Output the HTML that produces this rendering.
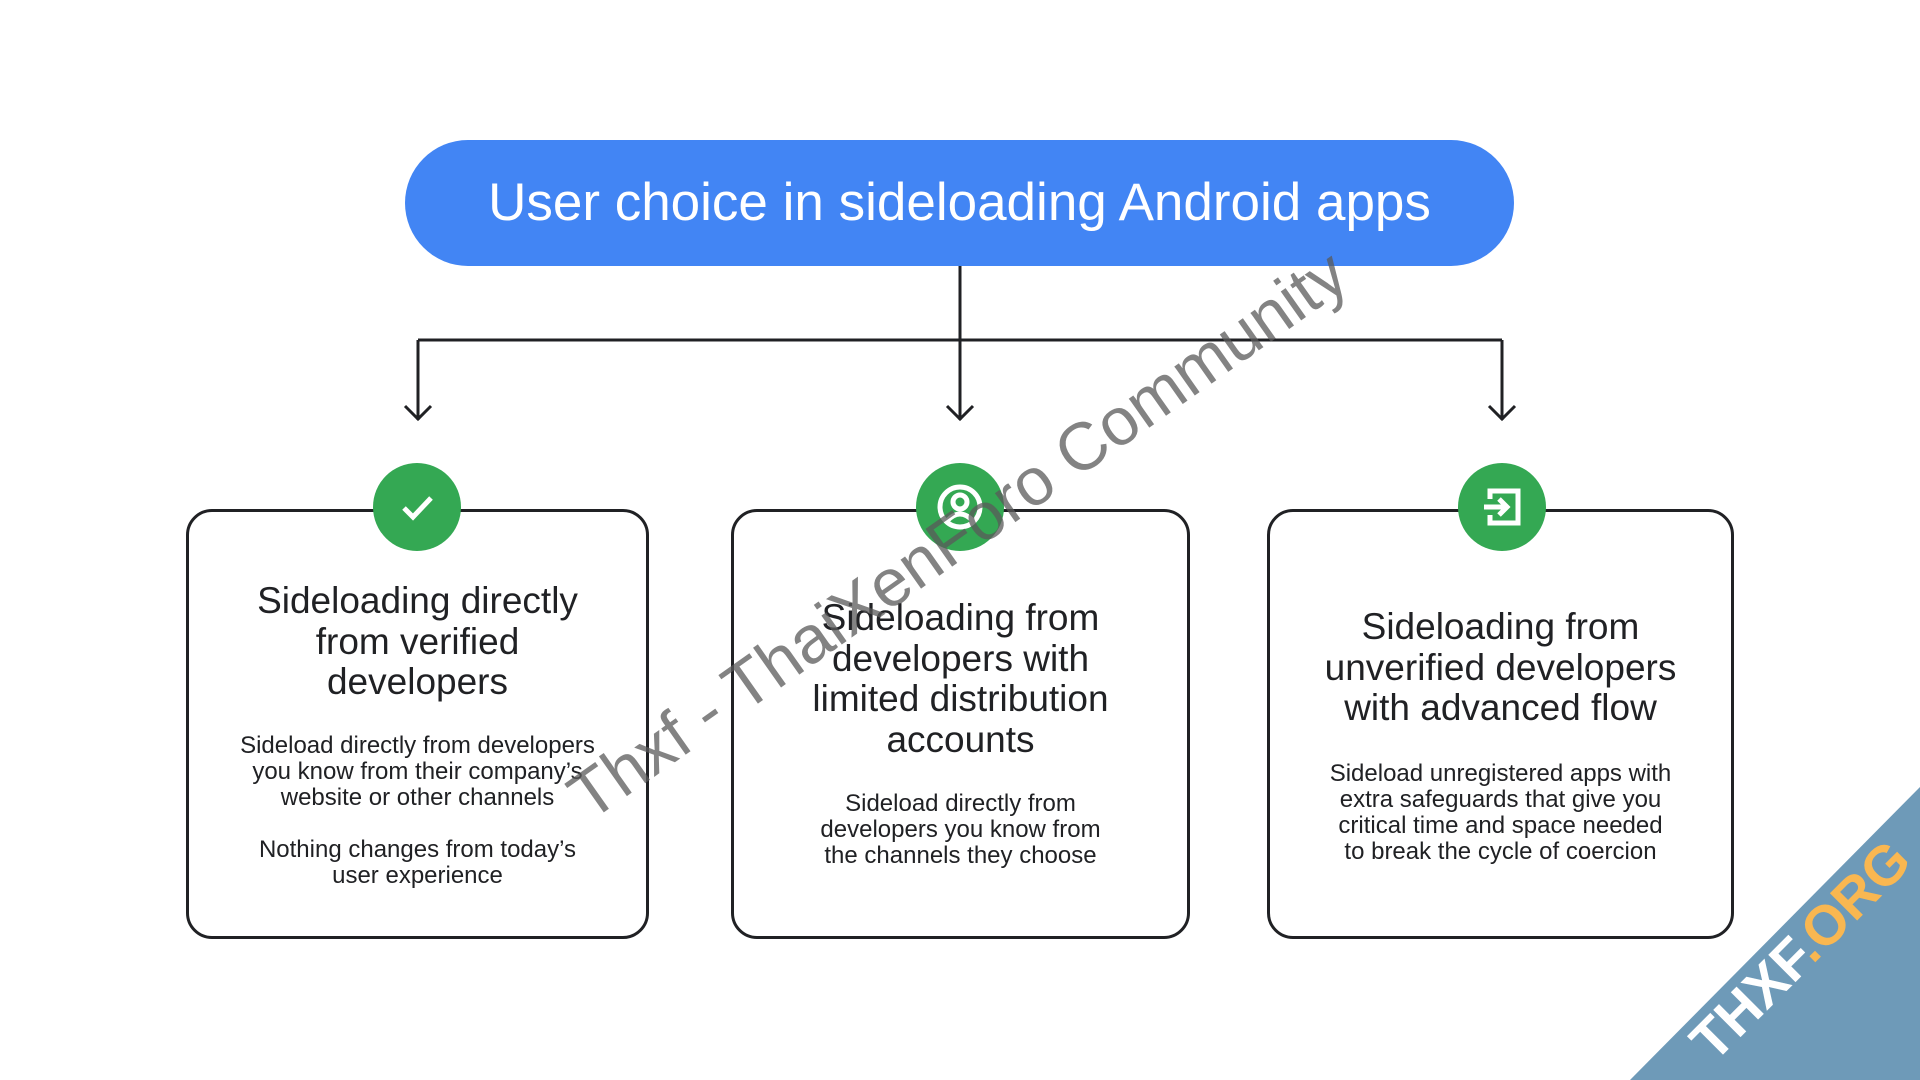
<!DOCTYPE html>
<html><head><meta charset="utf-8"><style>
html,body{margin:0;padding:0;background:#fff;width:1920px;height:1080px;overflow:hidden;position:relative;font-family:"Liberation Sans",sans-serif;color:#202124}
.pill{position:absolute;left:405px;top:140px;width:1109px;height:126px;border-radius:63px;background:#4285f4;color:#fff;font-size:53px;line-height:126px;text-align:center}
.card{position:absolute;top:509px;height:430px;border:3px solid #202124;border-radius:26px;box-sizing:border-box}
.t{position:absolute;left:-10px;right:-10px;text-align:center;font-size:37px;line-height:40.5px;color:#202124}
.b{position:absolute;left:-10px;right:-10px;text-align:center;font-size:24px;line-height:26px;color:#202124}
.c{position:absolute;top:463px;width:88px;height:88px;border-radius:50%;background:#34a853}
.c svg{position:absolute;left:0;top:0}
</style></head><body>
<div class="pill">User choice in sideloading Android apps</div>
<svg width="1920" height="1080" style="position:absolute;left:0;top:0">
<g stroke="#202124" stroke-width="3" fill="none">
<line x1="960" y1="266" x2="960" y2="420"/>
<line x1="418" y1="340" x2="1502" y2="340"/>
<line x1="418" y1="340" x2="418" y2="420"/>
<line x1="1502" y1="340" x2="1502" y2="420"/>
<polyline points="405,406 418,419 431,406"/>
<polyline points="947,406 960,419 973,406"/>
<polyline points="1489,406 1502,419 1515,406"/>
</g></svg>
<div class="card" style="left:186px;width:463px">
<div class="t" style="top:69px">Sideloading directly<br>from verified<br>developers</div>
<div class="b" style="top:221px">Sideload directly from developers<br>you know from their company’s<br>website or other channels</div>
<div class="b" style="top:325px">Nothing changes from today’s<br>user experience</div>
</div>
<div class="card" style="left:731px;width:459px">
<div class="t" style="top:86px">Sideloading from<br>developers with<br>limited distribution<br>accounts</div>
<div class="b" style="top:279px">Sideload directly from<br>developers you know from<br>the channels they choose</div>
</div>
<div class="card" style="left:1267px;width:467px">
<div class="t" style="top:95px">Sideloading from<br>unverified developers<br>with advanced flow</div>
<div class="b" style="top:249px">Sideload unregistered apps with<br>extra safeguards that give you<br>critical time and space needed<br>to break the cycle of coercion</div>
</div>
<div class="c" style="left:373px"><svg width="88" height="88"><polyline points="31,45 40,54 58,35" stroke="#fff" stroke-width="5" fill="none"/></svg></div>
<div class="c" style="left:916px"><svg width="88" height="88"><circle cx="44" cy="44" r="20" stroke="#fff" stroke-width="5" fill="none"/><circle cx="44" cy="39" r="7" stroke="#fff" stroke-width="5" fill="none"/><path d="M31 58 Q44 44 57 58" stroke="#fff" stroke-width="5" fill="none"/></svg></div>
<div class="c" style="left:1458px"><svg width="88" height="88"><path d="M32 36 V28 H60 V60 H32 V52" stroke="#fff" stroke-width="5" fill="none"/><line x1="26" y1="44" x2="48" y2="44" stroke="#fff" stroke-width="5"/><polyline points="41,36 49,44 41,52" stroke="#fff" stroke-width="5" fill="none"/></svg></div>
<div style="position:absolute;left:958px;top:535px;transform:translate(-50%,-50%) rotate(-35.2deg);font-size:67px;color:rgba(90,90,90,0.75);white-space:nowrap">Thxf - ThaiXenForo Community</div>
<div style="position:absolute;left:0;top:0;width:1920px;height:1080px;background:#6e9ab8;clip-path:polygon(1630px 1080px,1920px 787px,1920px 1080px)"></div>
<div style="position:absolute;left:1800px;top:950px;transform:translate(-50%,-50%) rotate(-45deg);font-size:56px;font-weight:bold;color:#fff;white-space:nowrap">THXF<span style="color:#f9b751">.ORG</span></div>
</body></html>
